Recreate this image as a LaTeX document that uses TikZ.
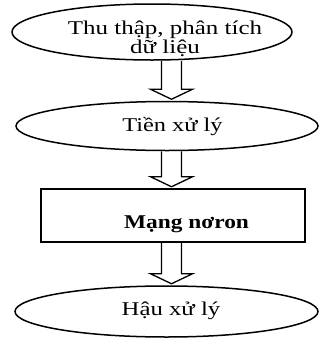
\documentclass[tikz,border=0pt]{standalone}
\usepackage{fontspec}
\setmainfont{Liberation Serif}
\usetikzlibrary{shapes.geometric,calc}

\tikzset{
  stage/.style={draw, ellipse, line width=1.5pt, inner sep=0pt},
  netbox/.style={draw, rectangle, line width=1.5pt, inner sep=0pt},
  txt/.style={font=\fontsize{19.5}{19.5}\selectfont, inner sep=0pt},
  hollow/.style={draw, line width=1.3pt, line join=miter},
}

% horizontally widened text block
\newcommand\widetext[2]{\scalebox{#1}[1]{\begin{tabular}{@{}c@{}}#2\end{tabular}}}

% hollow block arrow from the bottom of #1 down to the top of #2
\newcommand\hollowdown[2]{%
  \draw[hollow]
    ($(#1.south -| ax)+(-10,0)$) --
    ($(#2.north -| ax)+(-10,-11.5)$) --
    ($(#2.north -| ax)+(-21,-11.5)$) --
    ($(#2.north -| ax)+(0,-1.5)$) --
    ($(#2.north -| ax)+(21,-11.5)$) --
    ($(#2.north -| ax)+(10,-11.5)$) --
    ($(#1.south -| ax)+(10,0)$);}

\begin{document}
\begin{tikzpicture}[x=1pt,y=-1pt]
\useasboundingbox (0,0) rectangle (320,338);
\coordinate (ax) at (171.5,0);

\node[stage, minimum width=280pt, minimum height=56pt,
      label={[txt, xshift=13pt, yshift=-8pt]center:\widetext{1.28}{Thu thập, phân tích\\dữ liệu}}]
  (collect) at (152,32) {};

\node[stage, minimum width=302pt, minimum height=49pt,
      label={[txt, xshift=5.5pt, yshift=-1.5pt]center:\widetext{1.25}{Tiền xử lý}}]
  (pre) at (167,126) {};

\node[netbox, minimum width=264pt, minimum height=53pt,
      label={[txt, xshift=13.5pt, yshift=-8.7pt]center:\widetext{1.2}{\bfseries Mạng nơron}}]
  (net) at (173,215.5) {};

\node[stage, minimum width=303pt, minimum height=51pt,
      label={[txt, xshift=4.5pt, yshift=-0.5pt]center:\widetext{1.27}{Hậu xử lý}}]
  (post) at (166.5,311.5) {};

\hollowdown{collect}{pre}
\hollowdown{pre}{net}
\hollowdown{net}{post}
\end{tikzpicture}
\end{document}
